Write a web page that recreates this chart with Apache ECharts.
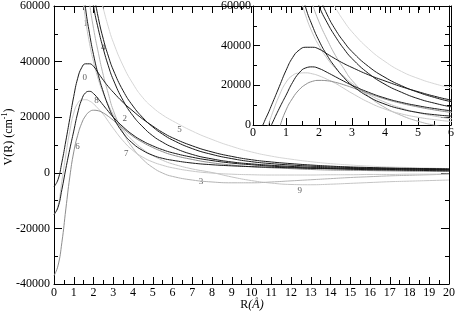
<!DOCTYPE html>
<html><head><meta charset="utf-8">
<script src="https://cdn.jsdelivr.net/npm/echarts@6/dist/echarts.min.js"></script>
<style>html,body{margin:0;padding:0;background:#fff}#c{width:458px;height:312px}</style>
</head><body><div id="c"></div>
<script>
// R grid (Å)
var R = [0, 0.2, 0.4, 0.6, 0.8, 1.0, 1.2, 1.4, 1.6, 1.8, 2.0, 2.25, 2.5, 2.75, 3.0, 3.5, 4.0, 4.5, 5.0, 5.5, 6.0, 7, 8, 9, 10, 11, 12, 13, 14, 15, 16, 17, 18, 19, 20];
// Potential curves V(R) in cm^-1 (null = off the top of the chart)
var v0 = [-5000, -2500, 3800, 11500, 19500, 27500, 34000, 37800, 39200, 39200, 38300, 35800, 33300, 31000, 29000, 25300, 22200, 19300, 16800, 14500, 12600, 9700, 7500, 5900, 4700, 3900, 3300, 2800, 2400, 2100, 1900, 1700, 1600, 1500, 1400];
var v1 = [null, null, null, null, null, null, null, 72000, 59000, 50000, 42500, 35000, 29000, 24000, 20000, 14300, 10500, 8000, 6300, 5200, 4500, 3500, 2900, 2500, 2200, 2000, 1800, 1600, 1500, 1400, 1300, 1200, 1100, 1050, 1000];
var v2 = [null, null, null, null, null, null, null, null, null, null, 65000, 55500, 48000, 42000, 37000, 29500, 24000, 19800, 16500, 13900, 11800, 8700, 6600, 5100, 4000, 3300, 2800, 2400, 2100, 1900, 1700, 1600, 1500, 1400, 1300];
var v3 = [null, null, null, null, null, null, null, null, 72000, 61000, 52000, 43000, 35000, 28500, 22500, 14500, 8800, 4800, 1900, -100, -1300, -2600, -3300, -3600, -3600, -3300, -2900, -2500, -2100, -1700, -1400, -1100, -900, -700, -500];
var v4 = [null, null, null, null, null, null, null, null, null, 70000, 60000, 51500, 44500, 38500, 33500, 26000, 20500, 16500, 13300, 11000, 9200, 6600, 5000, 3900, 3200, 2700, 2300, 2000, 1800, 1600, 1500, 1400, 1300, 1200, 1100];
var v5 = [null, null, null, null, null, null, null, null, null, null, null, 66000, 59000, 52500, 47000, 38500, 32000, 27000, 23500, 20800, 18700, 15000, 12000, 9500, 7500, 6000, 4900, 4000, 3300, 2800, 2400, 2100, 1900, 1700, 1500];
var v6 = [-37000, -33500, -25000, -13000, -1500, 7500, 13500, 17800, 20500, 22000, 22500, 22300, 21500, 20300, 18900, 15900, 13100, 10900, 9100, 7600, 6400, 4800, 3600, 2800, 2200, 1800, 1500, 1200, 1000, 900, 800, 700, 600, 550, 500];
var v7 = [-15000, -12000, -3000, 6500, 15000, 21500, 25000, 26200, 26300, 25800, 24800, 23000, 21000, 18500, 16000, 11500, 8000, 5600, 3900, 2700, 1800, 600, -100, -500, -700, -800, -800, -800, -700, -700, -600, -600, -500, -500, -400];
var v8 = [-15000, -12500, -6000, 1500, 8500, 15000, 21500, 26300, 28800, 29300, 28500, 26500, 24300, 22100, 20000, 16500, 13600, 11400, 9700, 8300, 7200, 5600, 4400, 3500, 2900, 2400, 2000, 1700, 1500, 1300, 1100, 1000, 900, 800, 700];
var v9 = [null, null, null, null, null, null, null, 66000, 55000, 46500, 40000, 33500, 28500, 24500, 21000, 15500, 11500, 8500, 6200, 4500, 3200, 1400, 100, -1500, -2800, -3700, -4200, -4300, -4100, -3800, -3500, -3200, -3000, -2800, -2600];
// curve labels
var labelText = ['0', '1', '4', '8', '6', '7', '2', '5', '3', '9'];
var labelR = [1.56, 1.61, 2.49, 2.15, 1.19, 3.66, 3.58, 6.35, 7.44, 12.44];
var labelV = [34200, 53700, 45200, 26000, 9500, 7000, 19400, 15400, -3250, -6500];
// axis ticks [min, max, interval]
var mainXTicks = [0, 20, 1];
var mainYTicks = [-40000, 60000, 20000];
var insetXTicks = [0, 6, 1];
var insetYTicks = [0, 60000, 20000];

var FONT = 'Liberation Serif';
var curves = [
  {v: v5, c: '#d6d6d6', w: 1},
  {v: v9, c: '#c4c4c4', w: 1},
  {v: v3, c: '#b4b4b4', w: 1},
  {v: v7, c: '#c8c8c8', w: 1},
  {v: v6, c: '#8e8e8e', w: 1},
  {v: v1, c: '#1a1a1a', w: 1},
  {v: v2, c: '#1a1a1a', w: 1},
  {v: v4, c: '#1a1a1a', w: 1},
  {v: v8, c: '#1a1a1a', w: 1},
  {v: v0, c: '#1a1a1a', w: 1}
];
function pts(v) {
  var out = [];
  for (var i = 0; i < R.length; i++) if (v[i] !== null) out.push([R[i], v[i]]);
  return out;
}
var series = [];
curves.forEach(function (cv) {
  [0, 2].forEach(function (ax) {
    series.push({
      type: 'line', xAxisIndex: ax, yAxisIndex: ax, data: pts(cv.v),
      showSymbol: false, symbol: 'none', smooth: 0.5, clip: true,
      lineStyle: {color: cv.c, width: cv.w}, silent: true
    });
  });
});
series.push({
  type: 'scatter', xAxisIndex: 0, yAxisIndex: 0, symbolSize: 1,
  itemStyle: {color: 'rgba(0,0,0,0)'}, silent: true,
  data: labelText.map(function (t, i) { return [labelR[i], labelV[i], t]; }),
  label: {show: true, position: 'inside', formatter: function (p) { return p.value[2]; },
    fontFamily: FONT, fontSize: 9, color: '#333'}
});

function axis(grid, t, pos, showLabel, tickLen, minorLen, margin) {
  return {
    type: 'value', gridIndex: grid, position: pos, min: t[0], max: t[1], interval: t[2],
    axisLine: {show: true, onZero: false, lineStyle: {color: '#000', width: 1}},
    axisTick: {show: true, inside: true, length: tickLen, lineStyle: {color: '#000', width: 1}},
    minorTick: {show: true, splitNumber: 2, length: minorLen, lineStyle: {color: '#000', width: 1}},
    splitLine: {show: false}, minorSplitLine: {show: false},
    axisLabel: {show: showLabel, fontFamily: FONT, fontSize: 12, color: '#000', margin: margin,
      formatter: function (v) { return String(v); }}
  };
}
var option = {
  animation: false,
  backgroundColor: '#fff',
  grid: [
    {left: 54, top: 6, width: 397, height: 278, containLabel: false},
    {left: 253, top: 6, width: 198, height: 119, containLabel: false}
  ],
  xAxis: [
    axis(0, mainXTicks, 'bottom', true, 7, 4, 3),
    axis(0, mainXTicks, 'top', false, 7, 4, 3),
    axis(1, insetXTicks, 'bottom', true, 7, 4, 2),
    axis(1, insetXTicks, 'top', false, 7, 4, 2)
  ],
  yAxis: [
    axis(0, mainYTicks, 'left', true, 8, 4, 4),
    axis(0, mainYTicks, 'right', false, 8, 4, 4),
    axis(1, insetYTicks, 'left', true, 7, 4, 2),
    axis(1, insetYTicks, 'right', false, 7, 4, 2)
  ],
  graphic: [
    {type: 'text', x: 9, y: 137, rotation: Math.PI / 2, silent: true,
      style: {text: '{a|V(R) (cm}{b|-1}{a|)}', align: 'center', verticalAlign: 'middle',
        rich: {a: {fontFamily: FONT, fontSize: 12, fill: '#000', lineHeight: 16},
               b: {fontFamily: FONT, fontSize: 8, fill: '#000', lineHeight: 16, verticalAlign: 'top'}}}},
    {type: 'text', x: 252, y: 305, silent: true,
      style: {text: '{a|R}{i|(Å)}', align: 'center', verticalAlign: 'middle',
        rich: {a: {fontFamily: FONT, fontSize: 12, fill: '#000'},
               i: {fontFamily: FONT, fontSize: 12, fill: '#000', fontStyle: 'italic'}}}}
  ],
  series: series
};
echarts.init(document.getElementById('c'), null, {renderer: 'canvas'}).setOption(option);
</script>
</body></html>
